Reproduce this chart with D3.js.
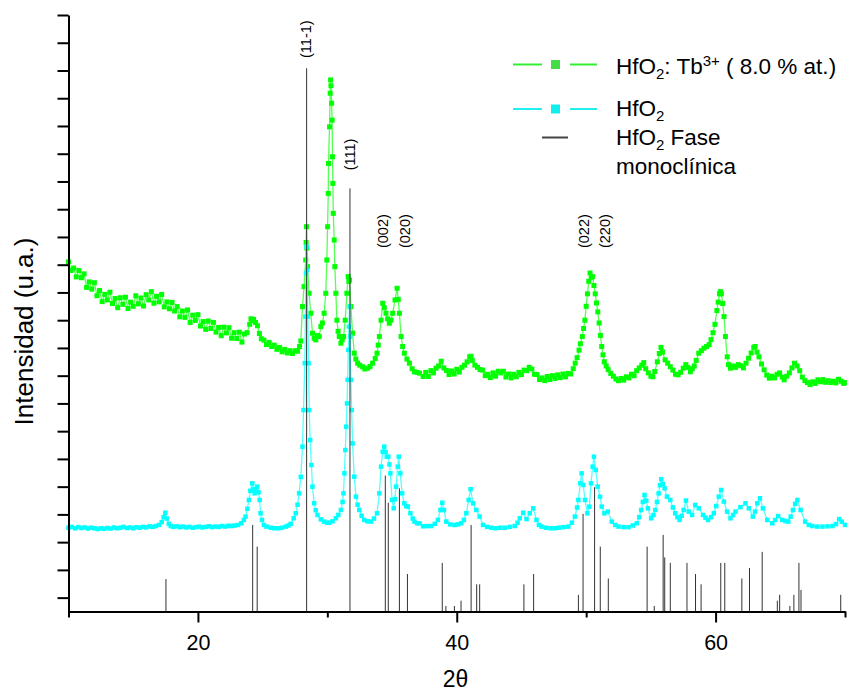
<!DOCTYPE html>
<html>
<head>
<meta charset="utf-8">
<script src="https://cdn.jsdelivr.net/npm/d3@7"></script>
<style>
body { margin: 0; background: #fff; }
svg text { font-family: "Liberation Sans", Arial, sans-serif; fill: #000; }
</style>
</head>
<body>
<div id="chart"></div>
<script>
// 2theta / intensity (u.a.)
const hfo2TbPoints = [
[10.0,12.10],[10.2,11.79],[10.4,11.88],[10.6,11.56],[10.8,11.79],[11.0,11.53],[11.2,11.67],[11.4,11.18],[11.6,11.38],[11.8,11.12],
[12.0,11.35],[12.2,10.88],[12.4,11.07],[12.6,10.67],[12.8,10.93],[13.0,10.73],[13.2,11.01],[13.4,10.60],[13.6,10.78],[13.8,10.45],
[14.0,10.81],[14.2,10.57],[14.4,10.83],[14.6,10.42],[14.8,10.65],[15.0,10.50],[15.2,10.88],[15.4,10.59],[15.6,10.80],[15.8,10.51],
[16.0,10.92],[16.2,10.73],[16.4,11.03],[16.6,10.61],[16.8,10.86],[17.0,10.66],[17.2,10.93],[17.4,10.48],[17.6,10.66],[17.8,10.41],
[18.0,10.64],[18.2,10.33],[18.4,10.49],[18.6,10.12],[18.8,10.33],[19.0,10.10],[19.2,10.37],[19.4,9.92],[19.6,10.18],[19.8,9.99],
[20.0,10.20],[20.2,9.79],[20.4,9.95],[20.6,9.67],[20.8,9.97],[21.0,9.70],[21.2,9.92],[21.4,9.57],[21.6,9.74],[21.8,9.44],
[22.0,9.75],[22.2,9.54],[22.4,9.73],[22.6,9.35],[22.8,9.55],[23.0,9.34],[23.2,9.57],[23.4,9.21],[23.6,9.50],[23.8,9.55],
[24.0,9.85],[24.1,10.05],[24.2,9.98],[24.3,10.03],[24.45,9.92],[24.6,9.80],[24.75,9.52],[24.9,9.33],[25.1,9.28],[25.3,9.12],
[25.5,9.20],[25.7,9.05],[25.9,9.10],[26.1,8.95],[26.3,9.02],[26.5,8.86],[26.7,8.95],[26.9,8.82],[27.1,8.90],[27.3,8.80],
[27.5,8.90],[27.7,8.88],[27.85,9.05],[27.95,9.25],[28.08,10.49],[28.2,11.21],[28.33,12.17],[28.36,12.80],[28.39,13.37],[28.42,12.60],
[28.47,11.93],[28.59,10.97],[28.72,10.25],[28.85,9.53],[28.98,9.35],[29.11,9.29],[29.24,9.45],[29.37,9.41],[29.5,9.77],[29.62,9.90],
[29.75,10.25],[29.88,10.97],[29.96,12.17],[30.02,13.37],[30.07,14.57],[30.09,15.65],[30.17,16.97],[30.22,18.18],[30.25,18.66],[30.28,18.45],
[30.33,17.82],[30.37,17.21],[30.40,15.89],[30.43,14.93],[30.46,13.85],[30.53,12.89],[30.58,11.93],[30.66,10.97],[30.74,10.00],[30.83,9.60],
[30.92,9.41],[31.05,9.17],[31.15,9.30],[31.26,9.41],[31.38,10.00],[31.51,10.97],[31.61,11.57],[31.66,11.40],[31.72,11.45],[31.82,10.49],
[31.95,9.53],[32.08,8.81],[32.2,8.60],[32.34,8.45],[32.5,8.38],[32.73,8.32],[32.9,8.24],[33.12,8.27],[33.3,8.33],[33.5,8.45],
[33.7,8.62],[33.84,8.81],[33.93,9.10],[34.02,9.41],[34.15,10.00],[34.28,10.61],[34.4,10.45],[34.53,10.25],[34.66,10.05],[34.79,9.89],
[34.92,10.00],[35.05,10.25],[35.23,10.73],[35.39,11.15],[35.48,10.75],[35.57,10.25],[35.7,9.41],[35.82,9.05],[35.95,8.81],[36.15,8.60],
[36.34,8.45],[36.55,8.25],[36.73,8.14],[36.93,8.12],[37.12,8.09],[37.4,7.97],[37.6,8.12],[37.8,7.97],[38.0,8.18],[38.2,8.10],
[38.4,8.27],[38.6,8.35],[38.8,8.52],[39.0,8.28],[39.2,8.19],[39.4,8.04],[39.6,8.17],[39.8,8.06],[40.0,8.23],[40.2,8.13],
[40.4,8.30],[40.6,8.38],[40.8,8.50],[41.0,8.68],[41.1,8.70],[41.2,8.55],[41.4,8.38],[41.6,8.30],[41.8,8.22],[42.0,8.20],
[42.2,8.00],[42.4,8.05],[42.6,7.93],[42.8,8.10],[43.0,7.98],[43.2,8.16],[43.4,8.10],[43.6,8.16],[43.8,7.95],[44.0,8.06],
[44.2,7.92],[44.4,8.05],[44.6,7.96],[44.8,8.12],[45.0,8.04],[45.2,8.20],[45.4,8.18],[45.6,8.30],[45.8,8.24],[46.0,8.05],
[46.2,8.04],[46.4,7.86],[46.6,7.92],[46.8,7.82],[47.0,7.97],[47.2,7.86],[47.4,8.00],[47.6,7.90],[47.8,8.03],[48.0,7.93],
[48.2,8.06],[48.4,7.96],[48.6,8.08],[48.8,8.06],[49.0,8.25],[49.15,8.45],[49.3,8.65],[49.45,8.92],[49.55,9.15],[49.7,9.41],
[49.8,9.70],[49.9,10.00],[50.0,10.50],[50.1,10.95],[50.2,11.40],[50.3,11.70],[50.4,11.55],[50.5,11.57],[50.6,11.25],[50.7,10.95],
[50.8,10.62],[50.9,10.30],[51.0,9.90],[51.1,9.45],[51.2,9.05],[51.3,8.75],[51.4,8.50],[51.55,8.35],[51.7,8.22],[51.9,8.08],
[52.1,7.98],[52.3,7.88],[52.5,7.82],[52.7,7.90],[52.9,7.84],[53.1,7.96],[53.3,7.92],[53.5,8.05],[53.7,8.00],[53.9,8.18],
[54.1,8.28],[54.3,8.38],[54.45,8.47],[54.6,8.25],[54.8,8.10],[55.0,7.98],[55.15,7.96],[55.3,8.15],[55.5,8.50],[55.65,8.80],
[55.78,9.02],[55.9,8.85],[56.1,8.57],[56.3,8.45],[56.5,8.32],[56.7,8.20],[56.9,8.05],[57.1,8.03],[57.3,8.12],[57.5,8.27],
[57.7,8.40],[57.85,8.30],[58.05,8.14],[58.2,8.25],[58.35,8.35],[58.5,8.55],[58.7,8.81],[58.9,8.90],[59.1,8.99],[59.3,9.05],
[59.5,9.12],[59.65,9.30],[59.8,9.55],[59.95,9.85],[60.1,10.35],[60.2,10.65],[60.3,10.95],[60.37,11.03],[60.45,10.95],[60.55,10.60],
[60.65,10.13],[60.76,9.41],[60.9,8.68],[61.0,8.40],[61.15,8.27],[61.35,8.35],[61.55,8.30],[61.75,8.40],[61.95,8.36],[62.15,8.28],
[62.35,8.45],[62.55,8.63],[62.75,8.82],[62.95,9.02],[63.05,9.05],[63.2,8.85],[63.35,8.68],[63.55,8.42],[63.75,8.21],[63.95,8.02],
[64.15,7.91],[64.35,7.98],[64.55,7.92],[64.75,8.05],[64.95,8.10],[65.15,7.95],[65.3,7.85],[65.5,7.98],[65.7,8.10],[65.9,8.28],
[66.1,8.45],[66.3,8.35],[66.5,8.18],[66.7,7.95],[66.9,7.82],[67.1,7.75],[67.3,7.68],[67.5,7.78],[67.7,7.72],[67.9,7.85],
[68.1,7.78],[68.3,7.86],[68.5,7.76],[68.7,7.82],[68.9,7.75],[69.1,7.80],[69.3,7.74],[69.5,7.87],[69.7,7.80],[69.9,7.72],[70.0,7.75]
];
const hfo2Points = [
[10.0,2.52],[10.25,2.55],[10.5,2.50],[10.75,2.54],[11.0,2.51],[11.25,2.53],[11.5,2.49],[11.75,2.52],[12.0,2.50],[12.25,2.47],
[12.5,2.50],[12.75,2.48],[13.0,2.51],[13.25,2.49],[13.5,2.53],[13.75,2.50],[14.0,2.52],[14.25,2.55],[14.5,2.51],[14.75,2.53],
[15.0,2.50],[15.25,2.54],[15.5,2.52],[15.75,2.55],[16.0,2.53],[16.25,2.57],[16.5,2.55],[16.75,2.58],[17.0,2.62],[17.2,2.72],
[17.35,2.90],[17.48,3.06],[17.6,2.85],[17.75,2.66],[17.9,2.58],[18.1,2.55],[18.35,2.57],[18.6,2.54],[18.85,2.56],[19.1,2.53],
[19.35,2.55],[19.6,2.52],[19.85,2.54],[20.1,2.56],[20.35,2.53],[20.6,2.55],[20.85,2.57],[21.1,2.54],[21.35,2.56],[21.6,2.55],
[21.85,2.58],[22.1,2.56],[22.35,2.59],[22.6,2.58],[22.85,2.60],[23.1,2.62],[23.35,2.68],[23.55,2.80],[23.68,2.92],[23.82,3.20],
[23.94,3.52],[24.05,3.85],[24.2,4.12],[24.3,3.90],[24.38,3.76],[24.48,3.92],[24.59,4.00],[24.68,3.80],[24.77,3.52],[24.84,3.04],
[24.95,2.80],[25.1,2.62],[25.3,2.56],[25.62,2.52],[25.9,2.50],[26.2,2.50],[26.5,2.52],[26.8,2.56],[27.0,2.60],[27.17,2.66],
[27.4,2.86],[27.56,3.04],[27.7,3.35],[27.82,3.76],[27.95,4.35],[28.08,5.44],[28.16,6.76],[28.26,8.45],[28.31,10.13],[28.35,11.69],
[28.39,12.65],[28.44,11.81],[28.49,10.13],[28.55,8.45],[28.6,6.76],[28.67,5.68],[28.77,4.78],[28.85,4.00],[28.98,3.40],[29.1,3.15],
[29.24,2.98],[29.5,2.82],[29.75,2.74],[30.0,2.70],[30.14,2.70],[30.4,2.75],[30.66,2.86],[30.85,2.98],[31.05,3.16],[31.18,3.45],
[31.25,3.76],[31.32,4.48],[31.39,5.32],[31.46,6.16],[31.52,7.00],[31.57,7.85],[31.62,8.93],[31.67,9.77],[31.72,10.49],[31.77,9.41],
[31.82,7.85],[31.88,6.76],[31.95,5.56],[32.08,4.36],[32.21,3.64],[32.34,3.35],[32.47,3.16],[32.65,2.95],[32.85,2.80],[33.1,2.75],
[33.37,2.74],[33.6,2.85],[33.84,3.04],[34.02,3.76],[34.15,4.72],[34.28,5.26],[34.4,5.44],[34.5,5.25],[34.59,5.08],[34.71,5.08],
[34.8,4.80],[34.87,4.48],[35.0,3.52],[35.13,3.22],[35.22,3.55],[35.31,4.00],[35.44,4.72],[35.52,5.08],[35.64,4.48],[35.78,3.76],
[35.95,3.40],[36.1,3.30],[36.22,3.28],[36.42,3.04],[36.6,2.85],[36.73,2.74],[36.95,2.68],[37.12,2.68],[37.4,2.57],[37.7,2.58],
[38.02,2.58],[38.3,2.66],[38.54,2.80],[38.74,3.16],[38.88,3.42],[39.01,3.16],[39.19,2.74],[39.5,2.64],[39.83,2.62],[40.1,2.64],
[40.35,2.68],[40.55,2.80],[40.74,3.04],[40.92,3.52],[41.07,3.91],[41.26,3.40],[41.51,3.16],[41.77,2.92],[42.03,2.62],[42.35,2.55],
[42.67,2.52],[43.0,2.50],[43.35,2.52],[43.71,2.52],[44.1,2.55],[44.48,2.58],[44.7,2.70],[44.87,2.86],[45.13,3.06],[45.39,2.83],
[45.64,3.04],[45.91,3.22],[46.16,2.80],[46.35,2.62],[46.55,2.56],[46.9,2.52],[47.25,2.50],[47.58,2.50],[47.9,2.52],[48.25,2.54],
[48.62,2.56],[48.9,2.70],[49.13,2.92],[49.3,3.25],[49.4,3.52],[49.55,4.12],[49.65,4.48],[49.78,4.06],[49.91,3.52],[50.09,3.04],
[50.25,3.28],[50.37,4.12],[50.5,4.72],[50.6,5.08],[50.74,4.60],[50.89,4.00],[51.07,3.64],[51.2,3.28],[51.41,3.04],[51.67,3.10],
[51.98,2.74],[52.25,2.62],[52.5,2.56],[52.9,2.54],[53.27,2.54],[53.6,2.60],[53.91,2.68],[54.1,2.90],[54.25,3.16],[54.38,3.45],
[54.51,3.70],[54.64,3.50],[54.77,3.22],[55.02,2.86],[55.2,2.98],[55.34,3.16],[55.47,3.45],[55.6,3.76],[55.7,4.05],[55.8,4.27],
[55.93,4.10],[56.06,3.94],[56.24,3.64],[56.5,3.52],[56.7,3.25],[56.88,3.04],[57.05,2.90],[57.22,2.80],[57.38,2.95],[57.53,3.16],
[57.71,3.50],[57.92,3.10],[58.18,2.98],[58.43,3.34],[58.7,3.22],[59.03,2.98],[59.22,2.88],[59.42,2.80],[59.65,2.90],[59.86,3.04],
[60.05,3.30],[60.25,3.64],[60.43,3.88],[60.64,3.46],[60.89,3.10],[61.15,2.86],[61.35,2.98],[61.54,3.10],[61.92,3.26],[62.31,3.40],
[62.57,3.22],[62.88,2.92],[63.05,3.10],[63.22,3.40],[63.43,3.58],[63.66,3.22],[63.99,2.80],[64.38,2.68],[64.6,2.80],[64.84,2.94],
[65.15,2.80],[65.4,2.76],[65.62,2.74],[65.8,2.92],[65.98,3.16],[66.15,3.38],[66.32,3.52],[66.57,3.16],[66.92,2.74],[67.2,2.62],
[67.48,2.58],[67.85,2.56],[68.26,2.56],[68.65,2.57],[69.03,2.58],[69.3,2.65],[69.55,2.83],[69.75,2.74],[70.0,2.62]
];
// reference pattern, HfO2 monoclinic phase
const phaseTheta = [17.53,24.23,24.58,28.40,31.75,34.48,34.71,35.57,36.19,38.88,39.16,39.82,40.33,41.11,41.54,41.77,45.19,45.94,49.40,49.76,50.65,51.09,51.71,54.71,55.26,55.95,56.07,56.50,57.79,58.45,58.88,60.40,60.71,62.03,62.62,63.60,64.77,64.95,65.74,66.05,66.44,66.60,69.67];
const phaseHeight = [0.67,2.62,1.84,19.08,14.75,4.40,3.42,3.94,0.85,1.25,-0.30,-0.30,-0.11,2.62,0.48,0.48,0.48,0.85,0.10,3.02,3.98,1.84,0.69,1.84,-0.30,2.26,1.45,1.25,1.25,0.85,0.48,1.25,1.25,0.69,1.07,1.65,-0.11,0.10,-0.30,0.10,1.25,0.28,0.10];
// miller index labels: text, 2theta, intensity where the text starts
const peakLabels = ["(11-1)","(111)","(002)","(020)","(022)","(220)"];
const peakLabelTheta = [28.45,31.85,34.45,36.10,49.95,51.55];
const peakLabelBase = [19.45,15.40,12.60,12.60,12.60,12.60];
const xMajorTicks = [20,40,60];
const xMinorTicks = [10,30,50,70];
const yTicks = [0,1,2,3,4,5,6,7,8,9,10,11,12,13,14,15,16,17,18,19,20,21];

class Xrd_chart {
    constructor(container_id) {
        this.width = 847;
        this.height = 694;
        this.svg = d3.select("#" + container_id)
            .append("svg")
            .attr("width", this.width)
            .attr("height", this.height);
        this.x = d3.scaleLinear().domain([10, 70]).range([68.5, 845]);
        this.y = d3.scaleLinear().domain([-0.5, 21]).range([611.5, 15]);
        this.render();
    }
    drawSeries(points, marker, line, size) {
        let x = this.x, y = this.y;
        let g = this.svg.append("g");
        g.append("path")
            .datum(points)
            .attr("fill", "none")
            .attr("stroke", line)
            .attr("stroke-width", 1.3)
            .attr("d", d3.line().x(d => x(d[0])).y(d => y(d[1])));
        g.selectAll("rect")
            .data(points)
            .join("rect")
            .attr("x", d => x(d[0]) - size / 2)
            .attr("y", d => y(d[1]) - size / 2)
            .attr("width", size)
            .attr("height", size)
            .attr("fill", marker);
    }
    render() {
        let svg = this.svg, x = this.x, y = this.y;

        this.drawSeries(hfo2TbPoints, "#00ff00", "#55ff55", 5);
        this.drawSeries(hfo2Points, "#00ffff", "#55ffff", 4.5);

        // reference sticks
        svg.append("g").selectAll("line")
            .data(phaseTheta)
            .join("line")
            .attr("x1", d => x(d)).attr("x2", d => x(d))
            .attr("y1", y(-0.5))
            .attr("y2", (d, i) => y(phaseHeight[i]))
            .attr("stroke", "#333")
            .attr("stroke-width", 1);

        // peak labels
        svg.append("g").selectAll("text")
            .data(peakLabels)
            .join("text")
            .attr("transform", (d, i) => `translate(${x(peakLabelTheta[i]) + 3.5},${y(peakLabelBase[i])}) rotate(-90)`)
            .style("font-size", "14.5px")
            .text(d => d);

        // axes
        let yAxis = svg.append("g")
            .attr("transform", `translate(${x(10)},0)`)
            .call(d3.axisLeft(y).tickValues(yTicks).tickFormat("").tickSize(11).tickSizeOuter(0));
        let xMinor = svg.append("g")
            .attr("transform", `translate(0,${y(-0.5)})`)
            .call(d3.axisBottom(x).tickValues(xMinorTicks).tickFormat("").tickSize(6).tickSizeOuter(0));
        let xAxis = svg.append("g")
            .attr("transform", `translate(0,${y(-0.5)})`)
            .call(d3.axisBottom(x).tickValues(xMajorTicks).tickFormat(d3.format("d")).tickSize(11).tickPadding(12).tickSizeOuter(0));
        [yAxis, xMinor, xAxis].forEach(a => {
            a.selectAll("path, line").attr("stroke", "#000").attr("stroke-width", 2);
        });
        xAxis.selectAll("text")
            .style("font-size", "21.5px")
            .style("font-family", '"Liberation Sans", Arial, sans-serif');

        svg.append("text")
            .attr("x", 455.5).attr("y", 687)
            .attr("text-anchor", "middle")
            .style("font-size", "23px")
            .text("2θ");
        svg.append("text")
            .attr("transform", "translate(33,331.5) rotate(-90)")
            .attr("text-anchor", "middle")
            .style("font-size", "26px")
            .text("Intensidad (u.a.)");

        this.drawLegend();
    }
    drawLegend() {
        let lg = this.svg.append("g");
        let rows = [
            {y: 64.5, line: "#33ee33", box: "#44dd44"},
            {y: 109, line: "#22eeee", box: "#11eeee"}
        ];
        rows.forEach(r => {
            lg.append("line").attr("x1", 513).attr("x2", 542).attr("y1", r.y).attr("y2", r.y)
                .attr("stroke", r.line).attr("stroke-width", 2);
            lg.append("line").attr("x1", 570).attr("x2", 597).attr("y1", r.y).attr("y2", r.y)
                .attr("stroke", r.line).attr("stroke-width", 2);
            lg.append("rect").attr("x", 551).attr("y", r.y - 4.5).attr("width", 9).attr("height", 9)
                .attr("fill", r.box);
        });
        lg.append("line").attr("x1", 542).attr("x2", 568).attr("y1", 137.5).attr("y2", 137.5)
            .attr("stroke", "#444").attr("stroke-width", 2);

        let fs = "22.5px";
        let t1 = lg.append("text").attr("x", 616).attr("y", 73.5).style("font-size", fs);
        t1.append("tspan").text("HfO");
        t1.append("tspan").attr("dy", 5).style("font-size", "15px").text("2");
        t1.append("tspan").attr("dy", -5).text(": Tb");
        t1.append("tspan").attr("dy", -8).style("font-size", "15px").text("3+");
        t1.append("tspan").attr("dy", 8).text(" ( 8.0 % at.)");

        let t2 = lg.append("text").attr("x", 616).attr("y", 116).style("font-size", fs);
        t2.append("tspan").text("HfO");
        t2.append("tspan").attr("dy", 5).style("font-size", "15px").text("2");

        let t3 = lg.append("text").attr("x", 616).attr("y", 145).style("font-size", fs);
        t3.append("tspan").text("HfO");
        t3.append("tspan").attr("dy", 5).style("font-size", "15px").text("2");
        t3.append("tspan").attr("dy", -5).text(" Fase");

        lg.append("text").attr("x", 616).attr("y", 173.5).style("font-size", fs).text("monoclínica");
    }
}

new Xrd_chart("chart");
</script>
</body>
</html>
